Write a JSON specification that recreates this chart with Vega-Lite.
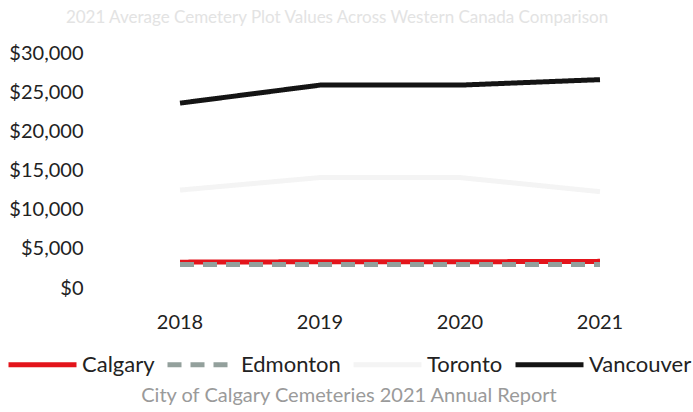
{
  "$schema": "https://vega.github.io/schema/vega-lite/v6.json",
  "autosize": {"type": "none"},
  "padding": {"left": 110, "top": 53, "right": 23, "bottom": 124},
  "width": 560,
  "height": 235,
  "background": "white",
  "title": {
    "text": "2021 Average Cemetery Plot Values Across Western Canada Comparison",
    "color": "#e3e3e3",
    "fontSize": 17,
    "font": "Lato",
    "fontWeight": "normal",
    "anchor": "middle",
    "frame": "group",
    "dx": -53,
    "offset": 16
  },
  "config": {
    "view": {"stroke": null},
    "font": "Lato"
  },
  "data": {
    "values": [
      {"year": "2018", "city": "Calgary", "value": 3300},
      {"year": "2019", "city": "Calgary", "value": 3350},
      {"year": "2020", "city": "Calgary", "value": 3350},
      {"year": "2021", "city": "Calgary", "value": 3400},
      {"year": "2018", "city": "Edmonton", "value": 3000},
      {"year": "2019", "city": "Edmonton", "value": 3000},
      {"year": "2020", "city": "Edmonton", "value": 3000},
      {"year": "2021", "city": "Edmonton", "value": 3000},
      {"year": "2018", "city": "Toronto", "value": 12500},
      {"year": "2019", "city": "Toronto", "value": 14100},
      {"year": "2020", "city": "Toronto", "value": 14100},
      {"year": "2021", "city": "Toronto", "value": 12300},
      {"year": "2018", "city": "Vancouver", "value": 23600},
      {"year": "2019", "city": "Vancouver", "value": 25900},
      {"year": "2020", "city": "Vancouver", "value": 25900},
      {"year": "2021", "city": "Vancouver", "value": 26600}
    ]
  },
  "mark": {"type": "line", "strokeWidth": 5},
  "encoding": {
    "x": {
      "field": "year",
      "type": "ordinal",
      "scale": {"type": "band", "paddingInner": 0, "paddingOuter": 0},
      "axis": {
        "title": null,
        "labelAngle": 0,
        "domain": false,
        "ticks": false,
        "grid": false,
        "labelFontSize": 20,
        "labelColor": "#222222",
        "labelPadding": 24
      }
    },
    "y": {
      "field": "value",
      "type": "quantitative",
      "scale": {"domain": [0, 30000]},
      "axis": {
        "title": null,
        "values": [0, 5000, 10000, 15000, 20000, 25000, 30000],
        "format": "$,.0f",
        "domain": false,
        "ticks": false,
        "grid": false,
        "labelFontSize": 20,
        "labelColor": "#222222",
        "labelPadding": 27
      }
    },
    "color": {
      "field": "city",
      "type": "nominal",
      "scale": {
        "domain": ["Calgary", "Edmonton", "Toronto", "Vancouver"],
        "range": ["#e3141b", "#93a09c", "#f4f4f4", "#141414"]
      },
      "legend": {
        "title": "City of Calgary Cemeteries 2021 Annual Report",
        "titleOrient": "bottom",
        "titleAnchor": "middle",
        "titleFontSize": 20,
        "titleFontWeight": "normal",
        "titleColor": "#9a9a9a",
        "titlePadding": 10,
        "titleLimit": 680,
        "orient": "none",
        "legendX": -104,
        "legendY": 275,
        "direction": "horizontal",
        "symbolType": "stroke",
        "symbolSize": 4624,
        "symbolStrokeWidth": 5,
        "labelFontSize": 22,
        "labelColor": "#222222",
        "labelLimit": 300,
        "labelOffset": 3,
        "columnPadding": 2
      }
    },
    "strokeDash": {
      "field": "city",
      "type": "nominal",
      "scale": {
        "domain": ["Calgary", "Edmonton", "Toronto", "Vancouver"],
        "range": [[1, 0], [14, 9], [1, 0], [1, 0]]
      },
      "legend": {
        "title": "City of Calgary Cemeteries 2021 Annual Report",
        "titleOrient": "bottom",
        "titleAnchor": "middle",
        "titleFontSize": 20,
        "titleFontWeight": "normal",
        "titleColor": "#9a9a9a",
        "titlePadding": 10,
        "titleLimit": 680,
        "orient": "none",
        "legendX": -104,
        "legendY": 275,
        "direction": "horizontal",
        "symbolType": "stroke",
        "symbolSize": 4624,
        "symbolStrokeWidth": 5,
        "labelFontSize": 22,
        "labelColor": "#222222",
        "labelLimit": 300,
        "labelOffset": 3,
        "columnPadding": 2
      }
    }
  }
}
